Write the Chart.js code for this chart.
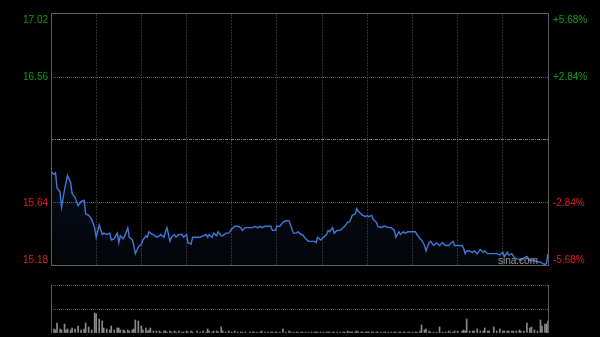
<!DOCTYPE html>
<html>
<head>
<meta charset="utf-8">
<script src="https://cdn.jsdelivr.net/npm/chart.js@4.4.1/dist/chart.umd.min.js"></script>
<style>
  html, body { margin: 0; padding: 0; background: #000; }
  #wrap { position: relative; width: 600px; height: 337px; overflow: hidden; }
  #priceBox { position: absolute; left: 0; top: 0; width: 600px; height: 280px; }
  #volBox { position: absolute; left: 0; top: 280px; width: 600px; height: 57px; }
</style>
</head>
<body>
<div id="wrap">
  <div id="priceBox"><canvas id="priceCanvas"></canvas></div>
  <div id="volBox"><canvas id="volCanvas"></canvas></div>
</div>
<script>
// trading minutes since the open (HK session, 330 min)
const minutes = [
  0,2,3,4,6,7,9,10,11,13,14,16,18,20,22,23,25,27,29,30,32,34,35,37,39,40,42,44,45,46,48,49,51,52,54,55,56,58,60,61,63,64,65,
  66,68,70,72,73,75,76,77,79,80,82,83,85,87,88,90,91,93,94,97,99,101,103,104,105,107,108,110,111,113,114,116,118,120,122,124,126,127,129,132,
  134,135,137,139,140,142,144,146,147,149,150,152,154,156,158,159,161,163,164,166,167,169,171,173,175,176,177,179,181,183,184,185,187,188,190,192,194,195,197,198,
  199,200,202,203,204,206,207,209,210,211,213,214,216,217,219,221,222,224,226,228,229,231,232,234,235,237,238,240,242,243,245,246,248,249,251,252,254,256,258,260,262,264,
  265,267,268,270,273,274,275,276,278,280,281,283,285,287,288,290,291,294,296,298,300,301,303,304,306,307,309,311,312,314,316,318,319,321,323,325,326,328,329,330
];

const prices = [
  15.87,15.85,15.86,15.75,15.72,15.61,15.74,15.79,15.84,15.79,15.71,15.68,15.62,15.65,15.66,15.56,15.55,15.52,15.46,15.39,15.48,15.41,15.42,15.41,15.42,15.37,15.38,15.42,15.35,15.40,15.38,15.40,15.46,15.39,15.37,15.33,15.27,15.32,15.34,15.37,15.40,15.39,15.43,
  15.42,15.41,15.39,15.40,15.41,15.39,15.43,15.46,15.36,15.39,15.41,15.39,15.41,15.41,15.39,15.41,15.35,15.34,15.39,15.39,15.39,15.40,15.41,15.39,15.41,15.39,15.42,15.40,15.43,15.40,15.40,15.42,15.42,15.45,15.47,15.47,15.46,15.44,15.46,15.46,
  15.46,15.47,15.46,15.47,15.46,15.47,15.47,15.47,15.44,15.44,15.47,15.47,15.50,15.51,15.51,15.48,15.42,15.42,15.43,15.41,15.41,15.38,15.36,15.36,15.36,15.35,15.39,15.37,15.39,15.41,15.44,15.43,15.46,15.42,15.44,15.44,15.46,15.47,15.50,15.50,
  15.52,15.55,15.56,15.60,15.58,15.56,15.55,15.54,15.55,15.54,15.55,15.52,15.50,15.47,15.46,15.47,15.47,15.46,15.46,15.44,15.39,15.43,15.41,15.43,15.42,15.43,15.43,15.43,15.43,15.41,15.38,15.37,15.33,15.29,15.35,15.36,15.33,15.35,15.33,15.35,15.33,15.33,
  15.34,15.36,15.33,15.33,15.33,15.31,15.27,15.29,15.29,15.28,15.29,15.27,15.30,15.28,15.29,15.27,15.27,15.27,15.27,15.26,15.28,15.25,15.28,15.26,15.27,15.25,15.23,15.23,15.22,15.24,15.25,15.22,15.22,15.22,15.21,15.21,15.20,15.19,15.20,15.27
];

const volumes = [
  16,8,6,20,8,6,18,6,8,6,10,8,14,6,8,20,12,6,40,38,28,24,10,8,6,14,6,10,10,6,6,4,6,4,6,8,26,24,14,6,10,4,6,
  10,4,4,4,2,4,4,2,4,2,4,2,4,2,2,4,2,4,2,4,2,4,2,8,4,2,4,4,2,12,4,2,4,2,4,2,2,2,2,2,
  2,2,2,2,4,2,2,2,2,2,2,2,8,2,4,2,2,2,2,2,2,2,2,2,2,2,2,2,2,2,2,2,2,2,2,2,2,2,4,2,
  2,2,2,4,2,2,2,2,2,2,2,2,2,2,2,2,2,2,2,2,2,2,2,2,2,2,2,2,2,2,4,16,6,8,4,2,2,2,12,2,2,4,
  2,2,4,4,4,6,4,28,4,4,4,8,4,4,10,4,4,12,4,8,4,4,4,4,4,4,4,6,4,4,20,10,12,6,4,26,14,18,18,24
];

const prevClose = 16.10;
const priceTicks = [17.02, 16.56, 16.10, 15.64, 15.18];
const leftLabels = ['17.02', '16.56', '', '15.64', '15.18'];
const rightLabels = ['+5.68%', '+2.84%', '', '-2.84%', '-5.68%'];
const timeTicks = [0, 30, 60, 90, 120, 150, 180, 210, 240, 270, 300, 330];
const volTicks = [0, 48, 96];

const UP = '#0f9f0f';
const DOWN = '#e01e1e';

const pricePlugin = {
  id: 'priceDecor',
  afterDraw(chart) {
    const { ctx, chartArea: a } = chart;
    const y = chart.scales.y;
    ctx.save();
    // frame
    ctx.strokeStyle = '#5e5e5e';
    ctx.lineWidth = 1;
    ctx.strokeRect(a.left + 0.5, a.top - 0.5, a.right - a.left, a.bottom - a.top);
    // axis labels
    ctx.font = '10px "Liberation Sans", Arial, sans-serif';
    priceTicks.forEach((v, i) => {
      if (!leftLabels[i]) return;
      let py = y.getPixelForValue(v);
      let base = 'middle';
      if (i === 0) { py = a.top + 1; base = 'top'; }
      if (i === priceTicks.length - 1) { py = a.bottom - 1; base = 'bottom'; }
      ctx.textBaseline = base;
      ctx.fillStyle = v > prevClose ? UP : DOWN;
      ctx.textAlign = 'right';
      ctx.fillText(leftLabels[i], a.left - 3, py);
      ctx.textAlign = 'left';
      ctx.fillText(rightLabels[i], a.right + 5, py);
    });
    // watermark
    ctx.fillStyle = 'rgba(170,170,170,0.9)';
    ctx.textAlign = 'right';
    ctx.textBaseline = 'bottom';
    ctx.fillText('sina.com', a.right - 10, a.bottom);
    ctx.restore();
  }
};

const volPlugin = {
  id: 'volDecor',
  afterDraw(chart) {
    const { ctx, chartArea: a } = chart;
    ctx.save();
    ctx.strokeStyle = '#5e5e5e';
    ctx.lineWidth = 1;
    ctx.beginPath();
    ctx.moveTo(a.left + 0.5, a.top);
    ctx.lineTo(a.left + 0.5, a.bottom);
    ctx.moveTo(a.right + 0.5, a.top);
    ctx.lineTo(a.right + 0.5, a.bottom);
    ctx.stroke();
    ctx.restore();
  }
};

const zeroWidth = s => { s.width = 0; };
const zeroHeight = s => { s.height = 0; };

new Chart(document.getElementById('priceCanvas'), {
  type: 'line',
  data: {
    datasets: [{
      data: minutes.map((m, i) => ({ x: m, y: prices[i] })),
      borderColor: '#3f78d8',
      borderWidth: 1.4,
      pointRadius: 0,
      tension: 0,
      fill: 'start',
      backgroundColor: ctx => {
        const a = ctx.chart.chartArea;
        if (!a) return 'rgba(40,80,150,0.12)';
        const g = ctx.chart.ctx.createLinearGradient(0, a.top, 0, a.bottom);
        g.addColorStop(0, 'rgba(50,90,170,0.28)');
        g.addColorStop(1, 'rgba(50,90,170,0.05)');
        return g;
      }
    }]
  },
  options: {
    responsive: true,
    maintainAspectRatio: false,
    animation: false,
    layout: { padding: { left: 51, right: 52, top: 14, bottom: 14 } },
    plugins: { legend: { display: false }, tooltip: { enabled: false } },
    scales: {
      x: {
        type: 'linear', min: 0, max: 330,
        afterBuildTicks: s => { s.ticks = timeTicks.map(v => ({ value: v })); },
        afterFit: zeroHeight,
        ticks: { display: false },
        border: { display: false, dash: [2, 1] },
        grid: {
          drawTicks: false,
          color: c => (c.tick && (c.tick.value === 0 || c.tick.value === 330)) ? 'rgba(0,0,0,0)' : '#2e2e2e'
        }
      },
      y: {
        min: 15.18, max: 17.02,
        afterBuildTicks: s => { s.ticks = priceTicks.map(v => ({ value: v })); },
        afterFit: zeroWidth,
        ticks: { display: false },
        border: {
          display: false,
          dash: c => (c.tick && c.tick.value === prevClose) ? [3, 1, 1, 1] : [1, 1]
        },
        grid: {
          drawTicks: false,
          color: c => {
            if (!c.tick || c.tick.value === 17.02 || c.tick.value === 15.18) return 'rgba(0,0,0,0)';
            return c.tick.value === prevClose ? '#7a7a7a' : '#5e5e5e';
          }
        }
      }
    }
  },
  plugins: [pricePlugin]
});

new Chart(document.getElementById('volCanvas'), {
  type: 'bar',
  data: {
    datasets: [{
      data: minutes.map((m, i) => ({ x: m, y: volumes[i] })),
      backgroundColor: '#8a8a8a',
      barThickness: 1
    }]
  },
  options: {
    responsive: true,
    maintainAspectRatio: false,
    animation: false,
    layout: { padding: { left: 51, right: 52, top: 5, bottom: 4 } },
    plugins: { legend: { display: false }, tooltip: { enabled: false } },
    scales: {
      x: {
        type: 'linear', min: 0, max: 330,
        offset: false,
        afterFit: zeroHeight,
        ticks: { display: false },
        border: { display: false },
        grid: { display: false, offset: false }
      },
      y: {
        min: 0, max: 96,
        afterBuildTicks: s => { s.ticks = volTicks.map(v => ({ value: v })); },
        afterFit: zeroWidth,
        ticks: { display: false },
        border: { display: false, dash: [1, 1] },
        grid: {
          drawTicks: false,
          color: c => (c.tick && c.tick.value === 0) ? 'rgba(0,0,0,0)' : '#5e5e5e'
        }
      }
    }
  },
  plugins: [volPlugin]
});
</script>
</body>
</html>
